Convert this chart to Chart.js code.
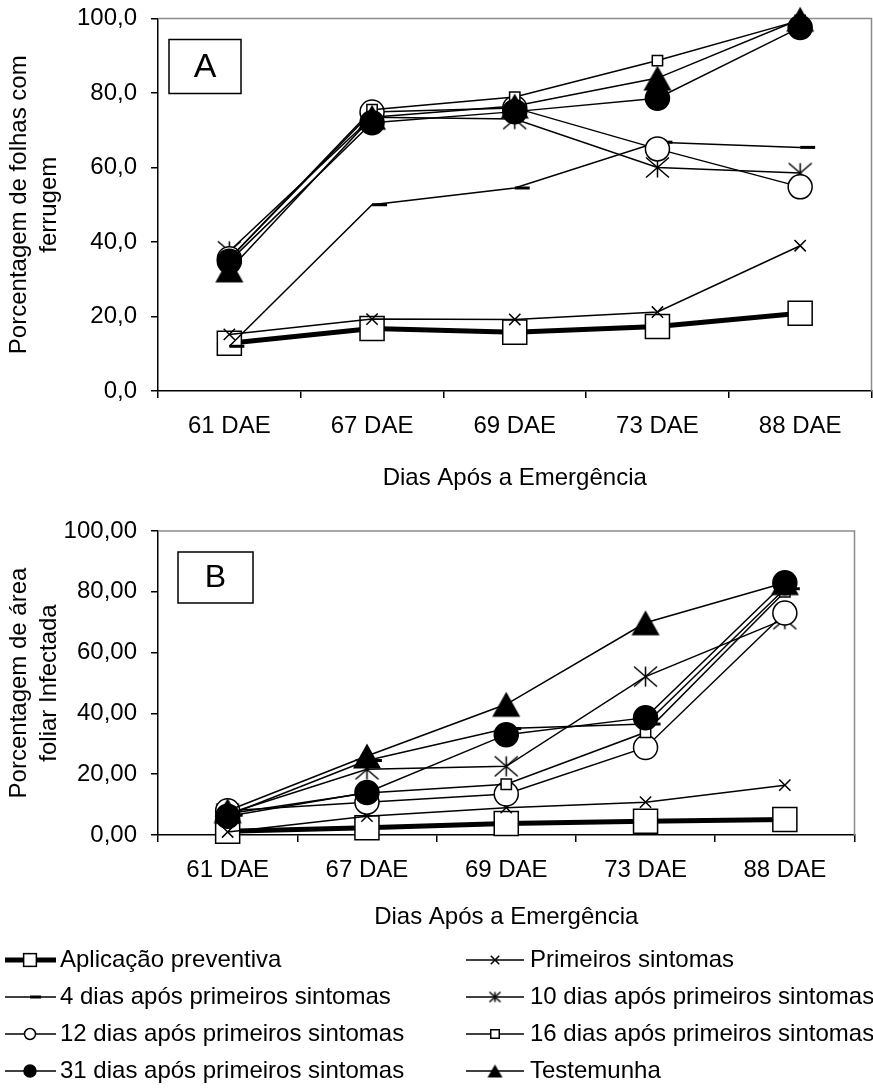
<!DOCTYPE html>
<html>
<head>
<meta charset="utf-8">
<script src="https://cdn.jsdelivr.net/npm/chart.js@4.4.0/dist/chart.umd.min.js"></script>
<style>
  html, body { margin: 0; padding: 0; background: #fff; }
  body { width: 873px; height: 1091px; overflow: hidden; position: relative; }
  canvas { position: absolute; left: 0; }
  #chartA { top: 0; }
  #chartB { top: 510px; }
</style>
</head>
<body>
<canvas id="chartA" width="890" height="500"></canvas>
<canvas id="chartB" width="873" height="581"></canvas>
<script>
const FONT = '"Liberation Sans", Arial, sans-serif';

const categories = ['61 DAE', '67 DAE', '69 DAE', '73 DAE', '88 DAE'];
const seriesNames = [
  'Aplicação preventiva',
  'Primeiros sintomas',
  '4 dias após primeiros sintomas',
  '10 dias após primeiros sintomas',
  '12 dias após primeiros sintomas',
  '16 dias após primeiros sintomas',
  '31 dias após primeiros sintomas',
  'Testemunha'
];
const yTicksA = ['0,0', '20,0', '40,0', '60,0', '80,0', '100,0'];
const yTicksB = ['0,00', '20,00', '40,00', '60,00', '80,00', '100,00'];

// A - porcentagem de folhas com ferrugem
const preventivaA = [12.8, 16.8, 15.8, 17.3, 20.9];
const primeirosA  = [15.2, 19.3, 19.2, 21.2, 39.0];
const dias4A      = [12.0, 50.0, 54.5, 66.8, 65.4];
const dias10A     = [37.5, 73.5, 73.0, 60.0, 58.5];
const dias12A     = [35.5, 74.9, 76.0, 65.0, 54.8];
const dias16A     = [35.5, 75.5, 78.9, 88.7, 99.5];
const dias31A     = [34.8, 72.0, 75.0, 78.6, 97.6];
const testemunhaA = [32.5, 73.5, 76.5, 84.0, 99.8];

// B - porcentagem de área foliar infectada
const preventivaB = [1.2, 2.4, 3.8, 4.5, 5.1];
const primeirosB  = [1.0, 6.2, 9.0, 10.8, 16.4];
const dias4B      = [6.5, 24.5, 35.0, 36.5, 81.0];
const dias10B     = [7.0, 21.6, 22.6, 52.1, 71.0];
const dias12B     = [8.0, 10.8, 13.5, 28.8, 73.0];
const dias16B     = [7.0, 13.8, 16.7, 33.8, 80.0];
const dias31B     = [6.2, 14.0, 33.0, 38.6, 83.0];
const testemunhaB = [8.0, 26.0, 43.0, 69.8, 83.0];

// custom marker images
function markerCanvas(size, draw) {
  const c = document.createElement('canvas');
  c.width = size; c.height = size;
  draw(c.getContext('2d'), size / 2);
  return c;
}
function asterisk(w, h, lw) {
  return markerCanvas(Math.ceil(Math.max(w, h)) + 4, (g, m) => {
    g.strokeStyle = '#000'; g.lineWidth = lw;
    g.beginPath();
    g.moveTo(m - w / 2, m - h / 2); g.lineTo(m + w / 2, m + h / 2);
    g.moveTo(m + w / 2, m - h / 2); g.lineTo(m - w / 2, m + h / 2);
    g.moveTo(m, m - h / 2); g.lineTo(m, m + h / 2);
    g.stroke();
  });
}
function triangle(w, h) {
  return markerCanvas(Math.ceil(Math.max(w, h)) + 2, (g, m) => {
    g.fillStyle = '#000';
    g.beginPath();
    g.moveTo(m, m - h / 2); g.lineTo(m + w / 2, m + h / 2); g.lineTo(m - w / 2, m + h / 2);
    g.closePath(); g.fill();
  });
}

const markerStyles = [
  { line: 5,   point: 'rect',     radius: 17,  fill: '#fff', pw: 1.5, legend: 9 },
  { line: 1.5, point: 'crossRot', radius: 8,   fill: '#000', pw: 1.5, legend: 6 },
  { line: 1.5, point: 'dash',     radius: 15,  fill: '#000', pw: 3,   legend: 11 },
  { line: 1.5, point: asterisk(23, 20, 1.5), radius: 12, fill: '#000', pw: 1.5, legendImg: asterisk(11, 10, 1.5) },
  { line: 1.5, point: 'circle',   radius: 12,  fill: '#fff', pw: 1.5, legend: 5.5 },
  { line: 1.5, point: 'rect',     radius: 7.3, fill: '#fff', pw: 1.5, legend: 6 },
  { line: 1.5, point: 'circle',   radius: 12,  fill: '#000', pw: 1.5, legend: 6 },
  { line: 1.5, point: triangle(28, 25), radius: 13, fill: '#000', pw: 1.5, legendImg: triangle(15, 13) }
];

function buildDatasets(seriesData) {
  return seriesData.map((data, i) => {
    const st = markerStyles[i];
    return {
      label: seriesNames[i],
      data: data,
      borderColor: '#000',
      borderWidth: st.line,
      pointStyle: st.point,
      pointRadius: st.radius,
      pointBackgroundColor: st.fill,
      pointBorderColor: '#000',
      pointBorderWidth: st.pw,
      tension: 0,
      clip: false,
      order: 10 - i
    };
  });
}

function buildScales(tickLabels, yTitle, xHeight, labelPad, titleBottom) {
  const font = { family: FONT, size: 24 };
  return {
    x: {
      type: 'category',
      offset: true,
      grid: { offset: true, drawOnChartArea: false, drawTicks: true, tickLength: 7, color: '#000', lineWidth: 1.5 },
      border: { display: true, color: '#000', width: 1.5 },
      ticks: { color: '#000', font: font, padding: labelPad, maxRotation: 0, autoSkip: false },
      title: { display: true, text: 'Dias Após a Emergência', color: '#000', font: font, padding: { top: 0, bottom: titleBottom } },
      afterFit: s => { s.height = xHeight; s.paddingLeft = 0; s.paddingRight = 0; }
    },
    y: {
      min: 0, max: 100,
      grid: { drawOnChartArea: false, drawTicks: true, tickLength: 7, color: '#000', lineWidth: 1.5 },
      border: { display: true, color: '#000', width: 1.5 },
      ticks: { stepSize: 20, color: '#000', font: font, padding: 14, callback: (v, i) => tickLabels[i] },
      title: { display: true, text: yTitle, color: '#000', font: { family: FONT, size: 24, lineHeight: 1.25 }, padding: { top: 4, bottom: 0 } },
      afterFit: s => { s.width = 158; s.paddingTop = 0; s.paddingBottom = 0; }
    }
  };
}

// grey top/right frame plus the panel letter
const panelFrame = {
  id: 'panelFrame',
  beforeDatasetsDraw(chart, args, opts) {
    const { ctx, chartArea: a } = chart;
    ctx.save();
    ctx.strokeStyle = '#8c8c8c';
    ctx.lineWidth = 1.5;
    ctx.beginPath();
    ctx.moveTo(a.left, a.top);
    ctx.lineTo(a.right, a.top);
    ctx.lineTo(a.right, a.bottom);
    ctx.stroke();
    const b = opts.box;
    ctx.strokeStyle = '#000';
    ctx.fillStyle = '#fff';
    ctx.fillRect(a.left + b.dx, a.top + b.dy, b.w, b.h);
    ctx.strokeRect(a.left + b.dx, a.top + b.dy, b.w, b.h);
    ctx.fillStyle = '#000';
    ctx.font = b.size + 'px ' + FONT;
    ctx.textAlign = 'center';
    ctx.textBaseline = 'middle';
    ctx.fillText(opts.letter, a.left + b.dx + b.w / 2, a.top + b.dy + b.h / 2 + 1);
    ctx.restore();
  }
};

function drawLegendPoint(ctx, st, x, y) {
  ctx.save();
  ctx.strokeStyle = '#000';
  ctx.fillStyle = st.fill;
  ctx.lineWidth = st.pw;
  if (st.legendImg) {
    ctx.drawImage(st.legendImg, x - st.legendImg.width / 2, y - st.legendImg.height / 2);
  } else if (st.point === 'rect') {
    const h = st.legend * Math.SQRT1_2;
    ctx.fillRect(x - h, y - h, 2 * h, 2 * h);
    ctx.strokeRect(x - h, y - h, 2 * h, 2 * h);
  } else if (st.point === 'circle') {
    ctx.beginPath(); ctx.arc(x, y, st.legend, 0, Math.PI * 2);
    ctx.fill(); ctx.stroke();
  } else if (st.point === 'crossRot') {
    const h = st.legend * Math.SQRT1_2;
    ctx.beginPath();
    ctx.moveTo(x - h, y - h); ctx.lineTo(x + h, y + h);
    ctx.moveTo(x + h, y - h); ctx.lineTo(x - h, y + h);
    ctx.stroke();
  } else if (st.point === 'dash') {
    ctx.beginPath(); ctx.moveTo(x, y); ctx.lineTo(x + st.legend, y); ctx.stroke();
  }
  ctx.restore();
}

const sampleLegend = {
  id: 'sampleLegend',
  afterDraw(chart, args, opts) {
    const ctx = chart.ctx;
    ctx.save();
    ctx.font = '24px ' + FONT;
    ctx.textBaseline = 'middle';
    chart.data.datasets.forEach((ds, i) => {
      const c = opts.columns[i % 2];
      const y = opts.top + Math.floor(i / 2) * opts.rowGap;
      ctx.strokeStyle = '#000';
      ctx.lineWidth = ds.borderWidth;
      ctx.beginPath();
      ctx.moveTo(c.from, y);
      ctx.lineTo(c.to, y);
      ctx.stroke();
      drawLegendPoint(ctx, markerStyles[i], c.marker, y);
      ctx.fillStyle = '#000';
      ctx.fillText(ds.label, c.text, y);
    });
    ctx.restore();
  }
};

const baseOptions = {
  responsive: false,
  animation: false,
  devicePixelRatio: 1,
  events: []
};

new Chart(document.getElementById('chartA'), {
  type: 'line',
  data: {
    labels: categories,
    datasets: buildDatasets([preventivaA, primeirosA, dias4A, dias10A, dias12A, dias16A, dias31A, testemunhaA])
  },
  options: Object.assign({}, baseOptions, {
    layout: { padding: { top: 17, right: 12, left: 0, bottom: 0 } },
    scales: buildScales(yTicksA, ['Porcentagem de folhas com', 'ferrugem'], 109, 14, 7),
    plugins: {
      legend: { display: false },
      tooltip: { enabled: false },
      panelFrame: { letter: 'A', box: { dx: 11, dy: 21, w: 72, h: 54, size: 34 } }
    }
  }),
  plugins: [panelFrame]
});

new Chart(document.getElementById('chartB'), {
  type: 'line',
  data: {
    labels: categories,
    datasets: buildDatasets([preventivaB, primeirosB, dias4B, dias10B, dias12B, dias16B, dias31B, testemunhaB])
  },
  options: Object.assign({}, baseOptions, {
    layout: { padding: { top: 21, right: 7, left: 0, bottom: 156 } },
    scales: buildScales(yTicksB, ['Porcentagem de área', 'foliar Infectada'], 100, 14, 3),
    plugins: {
      legend: { display: false },
      tooltip: { enabled: false },
      panelFrame: { letter: 'B', box: { dx: 20, dy: 21, w: 75, h: 51, size: 32 } },
      sampleLegend: {
        top: 450,
        rowGap: 37,
        columns: [
          { from: 5, to: 56, marker: 30, text: 60 },
          { from: 466, to: 524, marker: 495, text: 530 }
        ]
      }
    }
  }),
  plugins: [panelFrame, sampleLegend]
});
</script>
</body>
</html>
